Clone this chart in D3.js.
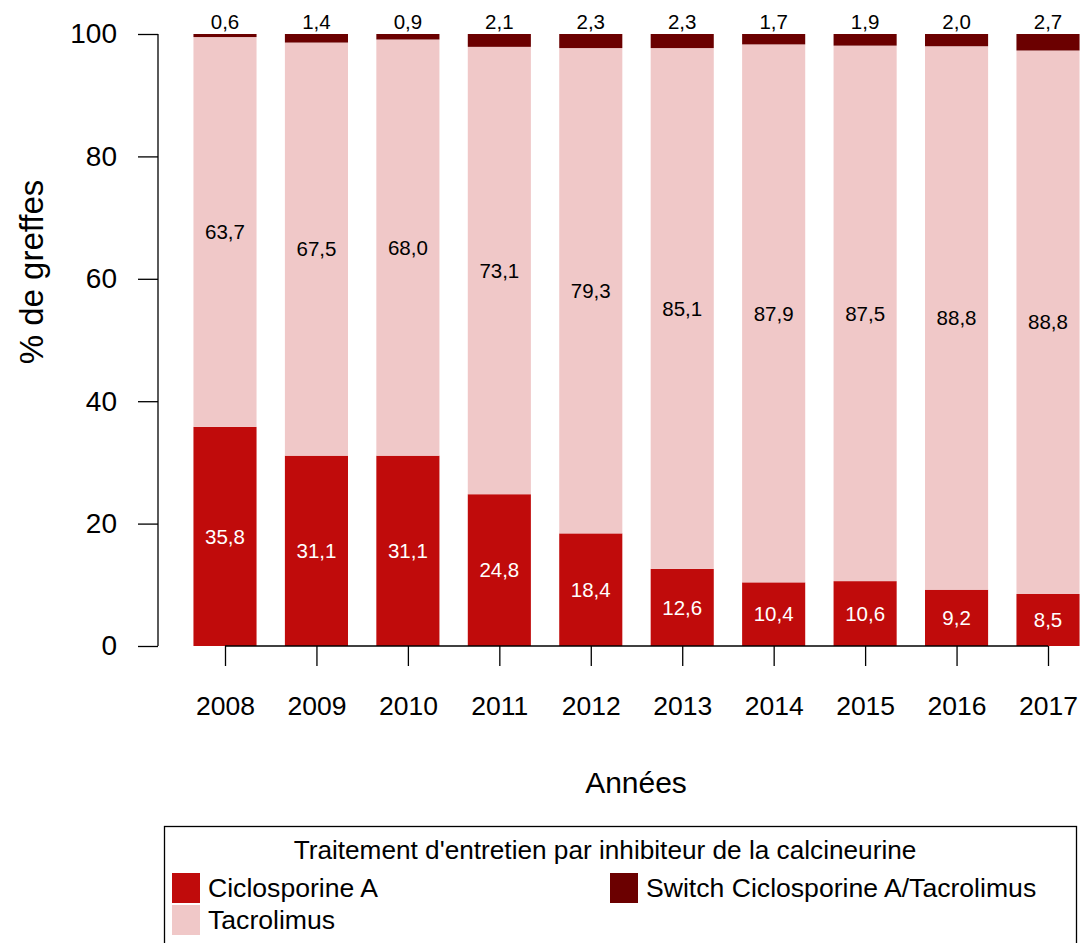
<!DOCTYPE html>
<html><head><meta charset="utf-8">
<script src="https://cdn.jsdelivr.net/npm/d3@7/dist/d3.min.js"></script>
<style>body{margin:0;background:#fff}svg{display:block;font-family:"Liberation Sans",Arial,sans-serif}</style>
</head><body>
<script>
const years = ["2008","2009","2010","2011","2012","2013","2014","2015","2016","2017"];
const ciclosporine = [35.8,31.1,31.1,24.8,18.4,12.6,10.4,10.6,9.2,8.5];
const tacrolimus = [63.7,67.5,68.0,73.1,79.3,85.1,87.9,87.5,88.8,88.8];
const switchCT = [0.6,1.4,0.9,2.1,2.3,2.3,1.7,1.9,2.0,2.7];
const yTicks = [0,20,40,60,80,100];
const seriesNames = ["Ciclosporine A","Tacrolimus","Switch Ciclosporine A/Tacrolimus"];
const colors = ["#C00B0B","#F0C8C8","#6B0000"];

const W=1081,H=943;
const svg=d3.select("body").append("svg").attr("width",W).attr("height",H);
const x=d3.scalePoint().domain(years).range([225,1048]);
const bw=x.step()*0.69;
const y=d3.scaleLinear().domain([0,100]).range([646,34]);
const fmt=v=>v.toFixed(1).replace(".",",");

const rows=years.map((yr,i)=>({year:yr,c:ciclosporine[i],t:tacrolimus[i],s:switchCT[i]}));
const stack=d3.stack().keys(["c","t","s"])(rows);
stack.forEach((layer,k)=>{
  svg.append("g").selectAll("rect").data(layer).join("rect")
    .attr("x",d=>x(d.data.year)-bw/2).attr("width",bw)
    .attr("y",d=>y(Math.min(d[1],100))).attr("height",d=>y(d[0])-y(Math.min(d[1],100)))
    .attr("fill",colors[k]);
});
// labels
const lab=svg.append("g").attr("font-size",20.5).attr("text-anchor","middle");
stack[0].forEach(d=>lab.append("text").attr("x",x(d.data.year)).attr("y",y((d[0]+d[1])/2)).attr("dy","0.35em").attr("fill","#fff").text(fmt(d.data.c)));
stack[1].forEach(d=>lab.append("text").attr("x",x(d.data.year)).attr("y",y((d[0]+d[1])/2)).attr("dy","0.35em").attr("fill","#000").text(fmt(d.data.t)));
stack[2].forEach(d=>lab.append("text").attr("x",x(d.data.year)).attr("y",y(100)-5).attr("fill","#000").text(fmt(d.data.s)));

// y axis
const ya=svg.append("g").attr("transform","translate(158,0)")
  .call(d3.axisLeft(y).tickValues(yTicks).tickSize(20).tickPadding(21).tickFormat(d=>d));
ya.selectAll("text").attr("font-size",28).attr("font-family","Liberation Sans, Arial, sans-serif").attr("fill","#000");
ya.selectAll("line").attr("stroke","#000").attr("stroke-width",1.3);
ya.select(".domain").attr("d","M0,"+y(0)+"V"+y(100)).attr("stroke","#000").attr("stroke-width",1.3);
// x axis
const xa=svg.append("g").attr("transform","translate(0,646)")
  .call(d3.axisBottom(x).tickSize(20));
xa.selectAll("text").attr("font-size",26.5).attr("font-family","Liberation Sans, Arial, sans-serif").attr("fill","#000").attr("y",60).attr("dy","0.35em");
xa.selectAll("line").attr("stroke","#000").attr("stroke-width",1.3);
xa.select(".domain").attr("d","M"+x(years[0])+",0H"+x(years[years.length-1])).attr("stroke","#000").attr("stroke-width",1.3);

svg.append("text").attr("transform","translate(31,272) rotate(-90)").attr("text-anchor","middle").attr("dy","0.35em").attr("font-size",33).text("% de greffes");
svg.append("text").attr("x",636).attr("y",782).attr("text-anchor","middle").attr("dy","0.35em").attr("font-size",30).text("Années");

// legend
const lg=svg.append("g");
lg.append("rect").attr("x",164.5).attr("y",826.5).attr("width",912).attr("height",130).attr("fill","none").attr("stroke","#000").attr("stroke-width",1.3);
lg.append("text").attr("x",605).attr("y",850).attr("dy","0.35em").attr("text-anchor","middle").attr("font-size",26.2).text("Traitement d'entretien par inhibiteur de la calcineurine");
const items=[{i:0,x:172,y:873},{i:1,x:172,y:905},{i:2,x:610,y:873}];
items.forEach(it=>{
  lg.append("rect").attr("x",it.x).attr("y",it.y).attr("width",28).attr("height",30).attr("fill",colors[it.i]);
  lg.append("text").attr("x",it.x+36).attr("y",it.y+15).attr("dy","0.35em").attr("font-size",26.6).text(seriesNames[it.i]);
});
</script>
</body></html>
